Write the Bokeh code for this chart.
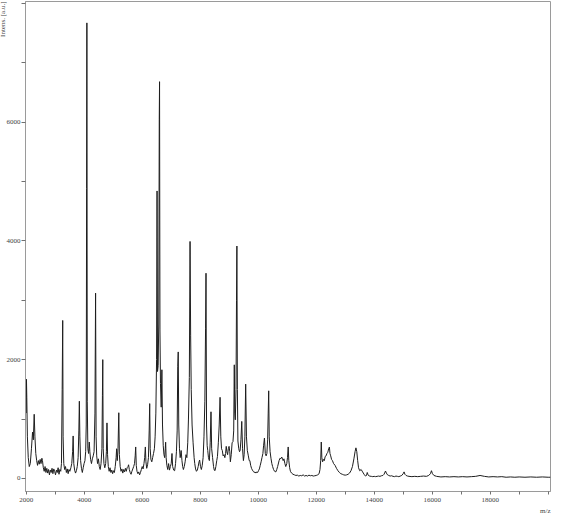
from bokeh.plotting import figure
from bokeh.models import FixedTicker, Title, Range1d
from bokeh.embed import file_html
from bokeh.resources import INLINE

# ---- traced spectrum (m/z, intensity [a.u.]) ----
mz_low = [2000, 2008, 2020, 2040, 2070, 2105, 2140, 2180, 2218, 2245, 2275, 2300, 2330, 2360, 2390,
          2420, 2450, 2480, 2510, 2540, 2560, 2590, 2620, 2650, 2680, 2710, 2740, 2770, 2800, 2830,
          2860, 2890, 2920, 2950, 2980, 3010, 3040, 3070, 3100, 3130, 3160, 3190, 3215, 3240, 3258,
          3272, 3295, 3325, 3355, 3385, 3415, 3445, 3475, 3505, 3540, 3570, 3600, 3618, 3640, 3670,
          3700, 3730, 3760, 3790, 3815, 3832, 3850, 3875, 3905, 3935, 3965, 3995, 4025, 4050, 4070,
          4082, 4092, 4105, 4125, 4150, 4175, 4195, 4220, 4250, 4280, 4310, 4340, 4370, 4392, 4410,
          4430, 4460, 4490, 4520, 4550, 4580, 4610, 4628, 4640, 4655, 4680, 4710, 4740, 4765, 4785,
          4805, 4830, 4860, 4890, 4920, 4950, 4980, 5010, 5040, 5070, 5100, 5118, 5140, 5165, 5192,
          5212, 5240, 5270, 5300, 5330, 5360, 5390, 5420, 5450, 5480, 5510, 5530, 5555, 5585, 5615,
          5645, 5675, 5705, 5735, 5758, 5775, 5795, 5820, 5850, 5880, 5910, 5940, 5970]
int_low = [1100, 1670, 1360, 700, 350, 200, 250, 500, 780, 650, 1080, 700, 420, 300, 220,
           300, 240, 320, 250, 340, 300, 180, 120, 200, 100, 170, 90, 150, 60, 140,
           100, 170, 80, 160, 120, 60, 140, 100, 180, 70, 150, 120, 250, 1500, 2660,
           700, 250, 150, 200, 100, 160, 80, 150, 120, 180, 250, 450, 715, 250, 140,
           90, 130, 200, 350, 800, 1300, 700, 300, 170, 100, 180, 250, 300, 450, 900,
           4880, 7670, 1300, 500, 420, 613, 450, 320, 250, 330, 380, 450, 1100, 3120, 700,
           380, 250, 330, 200, 150, 250, 500, 1400, 2000, 500, 250, 180, 250, 450, 935,
           400, 200, 120, 180, 100, 140, 80, 130, 100, 200, 350, 500, 300, 500, 1106,
           400, 200, 120, 160, 90, 150, 110, 170, 120, 180, 200, 230, 150, 100, 70,
           120, 160, 200, 250, 380, 530, 220, 120, 80, 110, 60, 100, 150]

mz_mid = [6000, 6030, 6060, 6085, 6108, 6128, 6155, 6185, 6215, 6240, 6258, 6275, 6300, 6330, 6360,
          6390, 6420, 6445, 6470, 6495, 6512, 6528, 6550, 6570, 6588, 6598, 6612, 6630, 6655, 6678,
          6700, 6725, 6750, 6775, 6795, 6808, 6825, 6850, 6880, 6910, 6940, 6970, 7000, 7027, 7050,
          7085, 7118, 7150, 7180, 7205, 7225, 7242, 7260, 7285, 7310, 7343, 7370, 7395, 7420, 7450,
          7480, 7510, 7540, 7570, 7595, 7625, 7650, 7670, 7690, 7720, 7755, 7790, 7812, 7840, 7870,
          7900, 7930, 7960, 7980, 8010, 8040, 8070, 8100, 8130, 8160, 8185, 8200, 8218, 8240, 8260,
          8285, 8316, 8345, 8372, 8395, 8427, 8460, 8485, 8510, 8540, 8570, 8595, 8625, 8655, 8685,
          8710, 8735, 8762, 8790, 8820, 8850, 8875, 8897, 8920, 8945, 8970, 8995, 9020, 9040, 9070,
          9100, 9130, 9155, 9175, 9192, 9210, 9235, 9252, 9265, 9282, 9300, 9330, 9355, 9377, 9405,
          9433, 9460, 9490, 9515, 9540, 9568, 9595, 9625, 9660, 9690, 9712, 9740, 9770, 9800, 9830,
          9860, 9890, 9920, 9950, 9980]
int_mid = [200, 160, 250, 350, 530, 280, 170, 230, 350, 800, 1260, 500, 320, 280, 350,
           420, 500, 700, 1100, 2000, 4840, 1800, 1900, 2600, 6040, 6680, 2500, 1600, 1200, 1830,
           900, 550, 400, 350, 500, 610, 350, 220, 150, 250, 140, 200, 250, 420, 200,
           140, 130, 250, 450, 800, 1880, 2130, 900, 500, 350, 470, 300, 200, 150, 200,
           280, 400, 350, 600, 1000, 1700, 3990, 2400, 1500, 900, 600, 350, 250, 160, 120,
           140, 200, 280, 310, 200, 150, 220, 350, 700, 1300, 2530, 3455, 900, 550, 470,
           350, 300, 600, 1122, 500, 350, 200, 140, 130, 200, 300, 370, 600, 900, 1366,
           700, 500, 470, 380, 400, 350, 420, 540, 450, 400, 500, 540, 450, 280, 400,
           600, 620, 800, 1913, 1100, 987, 1500, 3000, 3913, 1500, 630, 500, 450, 470, 650,
           960, 500, 300, 400, 700, 1588, 700, 470, 380, 300, 300, 220, 170, 140, 120,
           100, 110, 90, 110, 100]

mz_high = [10010, 10040, 10070, 10100, 10130, 10162, 10185, 10215, 10245, 10273, 10300, 10325, 10345,
           10362, 10380, 10410, 10440, 10470, 10497, 10530, 10565, 10608, 10640, 10670, 10700, 10720,
           10750, 10780, 10810, 10833, 10860, 10887, 10920, 10950, 10985, 11010, 11034, 11055, 11085,
           11111, 11150, 11200, 11250, 11300, 11350, 11400, 11450, 11500, 11550, 11600, 11650, 11700,
           11750, 11800, 11850, 11900, 11950, 12000, 12050, 12100, 12130, 12155, 12175, 12195, 12220,
           12250, 12280, 12310, 12340, 12370, 12400, 12430, 12455, 12475, 12500, 12530, 12560, 12600,
           12650, 12700, 12750, 12800, 12850, 12900, 12950, 13000, 13050, 13100, 13150, 13200, 13250,
           13300, 13340, 13370, 13400, 13430, 13460, 13500, 13550, 13600, 13650, 13700, 13735, 13760,
           13790, 13830, 13900, 13950, 14000, 14050, 14100, 14150, 14200, 14250, 14300, 14340, 14390,
           14420, 14460, 14500, 14550, 14600, 14650, 14700, 14750, 14800, 14850, 14900, 14950, 15000,
           15030, 15060, 15100, 15150, 15200, 15300, 15400, 15500, 15600, 15700, 15800, 15880, 15940,
           15975, 16010, 16060, 16150, 16300, 16450, 16600, 16750, 16900, 17050, 17200, 17350, 17500,
           17650, 17800, 17950, 18100, 18250, 18400, 18550, 18700, 18850, 19000, 19200, 19400, 19600,
           19800, 20000, 20080]
int_high = [130, 160, 220, 280, 350, 420, 550, 680, 420, 380, 420, 650, 1100,
            1475, 700, 450, 340, 250, 200, 150, 120, 110, 150, 200, 260, 300,
            340, 330, 360, 340, 300, 330, 250, 200, 250, 350, 530, 300, 180,
            120, 90, 70, 60, 50, 55, 40, 50, 45, 60, 40, 50, 40,
            55, 45, 50, 40, 45, 50, 60, 80, 150, 300, 613, 350, 280,
            320, 300, 370, 380, 420, 440, 500, 528, 420, 380, 320, 300, 250,
            220, 170, 130, 100, 80, 70, 60, 55, 60, 70, 90, 130, 200,
            330, 450, 515, 450, 300, 180, 130, 150, 110, 70, 40, 50, 100,
            60, 40, 35, 30, 35, 30, 35, 40, 35, 45, 50, 70, 125,
            90, 60, 50, 40, 45, 35, 30, 40, 35, 30, 40, 50, 80,
            110, 70, 50, 40, 35, 30, 35, 30, 35, 40, 35, 50, 80,
            130, 80, 50, 35, 25, 30, 25, 30, 25, 30, 25, 30, 35,
            50, 35, 25, 30, 25, 30, 20, 25, 20, 25, 20, 25, 20,
            25, 20, 20]

x_major = [2000, 4000, 6000, 8000, 10000, 12000, 14000, 16000, 18000]
x_minor = [3000, 5000, 7000, 9000, 11000, 13000, 15000, 17000, 19000, 20000]
y_major = [0, 2000, 4000, 6000]
y_minor = [1000, 3000, 5000, 7000, 8000]

mz = mz_low + mz_mid + mz_high
intensity = int_low + int_mid + int_high

FONT = "Liberation Sans Narrow"
AXIS_COL = "#9a9a9a"
TXT_COL = "#444444"

p = figure(width=551, height=514, output_backend="svg", toolbar_location=None,
           x_range=Range1d(1975, 20080), y_range=Range1d(-220, 8030),
           min_border_left=0, min_border_right=1, min_border_top=1, min_border_bottom=0)
p.background_fill_color = "white"
p.border_fill_color = "white"
p.outline_line_color = AXIS_COL
p.outline_line_width = 1
p.xgrid.visible = False
p.ygrid.visible = False

p.line(mz, intensity, line_color="#1e1e1e", line_width=1)

for ax, maj, mnr in ((p.xaxis[0], x_major, x_minor), (p.yaxis[0], y_major, y_minor)):
    ax.ticker = FixedTicker(ticks=maj, minor_ticks=mnr)
    ax.axis_line_color = AXIS_COL
    ax.major_tick_line_color = "#707070"
    ax.minor_tick_line_color = "#707070"
    ax.major_tick_in = 0
    ax.minor_tick_in = 0
    ax.major_label_text_font = FONT
    ax.major_label_text_font_size = "7px"
    ax.major_label_text_color = TXT_COL

p.xaxis.major_tick_out = 3
p.xaxis.minor_tick_out = 3
p.xaxis.major_label_standoff = 3
p.yaxis.major_tick_out = 4
p.yaxis.minor_tick_out = 4
p.yaxis.major_label_standoff = 1

p.add_layout(Title(text="Intens. [a.u.]", align="right", standoff=-7,
                   text_font=FONT, text_font_size="7px", text_font_style="normal",
                   text_color=TXT_COL), "left")
p.add_layout(Title(text="m/z", align="right", standoff=0,
                   text_font=FONT, text_font_size="7px", text_font_style="normal",
                   text_color=TXT_COL), "below")

open("out.html", "w").write(file_html(p, INLINE))
